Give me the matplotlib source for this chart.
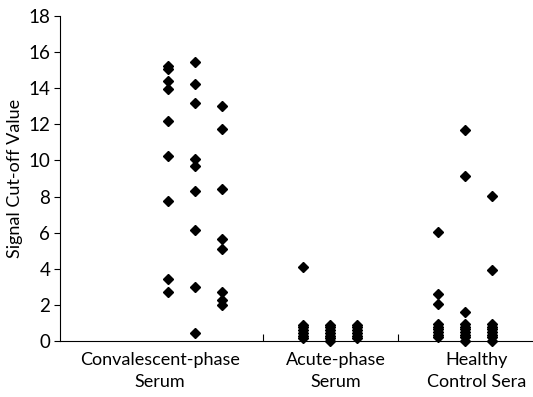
import matplotlib
matplotlib.use("Agg")
import matplotlib.pyplot as plt

plt.rcParams['font.family'] = ['Lato', 'DejaVu Sans']

# values, three sub-columns per group
conv_1 = [15.24, 15.06, 14.4, 13.94, 12.18, 10.24, 7.75, 3.42, 2.73]
conv_2 = [15.47, 14.21, 13.16, 10.1, 9.71, 8.32, 6.15, 2.97, 0.42]
conv_3 = [13.01, 11.76, 8.4, 5.67, 5.11, 2.71, 2.27, 1.98]

acute_1 = [4.12, 0.9, 0.75, 0.6, 0.45, 0.3, 0.15]
acute_2 = [0.9, 0.75, 0.6, 0.45, 0.3, 0.15, 0.02]
acute_3 = [0.9, 0.75, 0.6, 0.45, 0.3, 0.15]

healthy_1 = [6.05, 2.6, 2.05, 0.95, 0.8, 0.65, 0.5, 0.35, 0.2]
healthy_2 = [11.67, 9.14, 1.6, 0.95, 0.8, 0.65, 0.5, 0.35, 0.2, 0.02]
healthy_3 = [8.05, 3.93, 0.95, 0.8, 0.65, 0.5, 0.35, 0.2, 0.0]

columns = [conv_1, conv_2, conv_3, acute_1, acute_2, acute_3,
           healthy_1, healthy_2, healthy_3]
column_x = [4, 5, 6, 9, 10, 11, 14, 15, 16]

group_labels = ["Convalescent-phase\nSerum", "Acute-phase\nSerum", "Healthy\nControl Sera"]
group_label_x = [3.7, 10.2, 15.4]
separators = [7.5, 12.5]

fig = plt.figure(figsize=(5.33, 3.97), dpi=100)
ax = fig.add_axes([60 / 533, 1 - 341 / 397, 473 / 533, 325 / 397])

for x, vals in zip(column_x, columns):
    ax.plot([x] * len(vals), vals, linestyle='none', marker='D',
            markersize=5.5, color='black', clip_on=False)

ax.set_xlim(0, 17.5)
ax.set_ylim(0, 18)
ax.set_yticks(range(0, 19, 2))
ax.tick_params(axis='y', labelsize=13.5, direction='out', length=4, pad=3)
ax.set_ylabel("Signal Cut-off Value", fontsize=13, labelpad=4)

ax.set_xticks(separators)
ax.set_xticklabels([])
ax.tick_params(axis='x', direction='in', length=5)

for x, lab in zip(group_label_x, group_labels):
    ax.text(x, -0.035, lab, transform=ax.get_xaxis_transform(),
            ha='center', va='top', fontsize=13, linespacing=1.45)

ax.spines['top'].set_visible(False)
ax.spines['right'].set_visible(False)

fig.savefig("out.png", dpi=100)
